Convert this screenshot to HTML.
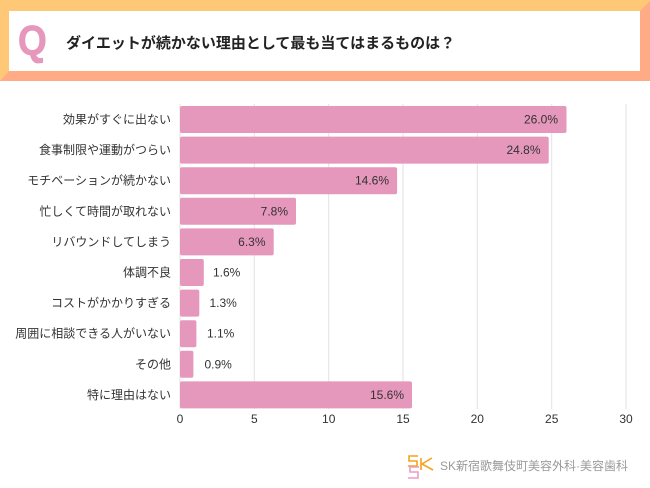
<!DOCTYPE html>
<html><head><meta charset="utf-8">
<style>
html,body{margin:0;padding:0;background:#fff;}
body{width:650px;height:488px;overflow:hidden;position:relative;font-family:"Liberation Sans","Noto Sans CJK JP",sans-serif;}
.frame{position:absolute;left:0;top:0;width:631px;height:60px;border-style:solid;border-width:11px 11px 10px 9px;border-color:#FFC877 #FFAB85 #FFAB85 #FFC877;background:#fff;}
.q{position:absolute;left:18px;top:17px;font-family:"Liberation Sans",sans-serif;font-weight:bold;font-size:42px;color:#E597BC;transform:scaleX(0.88);transform-origin:left top;line-height:48px;-webkit-text-stroke:0.8px #E597BC;}
.title{position:absolute;left:66px;top:34px;font-size:15px;font-weight:bold;color:#222;line-height:20px;white-space:nowrap;font-family:"Liberation Sans","Noto Sans CJK JP",sans-serif;}
svg{position:absolute;left:0;top:0;}
</style></head><body>
<div class="frame"></div>
<div class="q">Q</div>
<div class="title">ダイエットが続かない理由として最も当てはまるものは？</div>
<svg width="650" height="488" viewBox="0 0 650 488" xmlns="http://www.w3.org/2000/svg">
<g stroke="#e2e2e2" stroke-width="1">
<line x1="180" y1="104" x2="180" y2="409"/>
<line x1="254.3" y1="104" x2="254.3" y2="409"/>
<line x1="328.7" y1="104" x2="328.7" y2="409"/>
<line x1="403" y1="104" x2="403" y2="409"/>
<line x1="477.3" y1="104" x2="477.3" y2="409"/>
<line x1="551.7" y1="104" x2="551.7" y2="409"/>
<line x1="626" y1="104" x2="626" y2="409"/>
</g>
<g fill="#E597BC">
<rect x="180" y="106" width="386.5" height="27" rx="2"/>
<rect x="180" y="136.6" width="368.7" height="27" rx="2"/>
<rect x="180" y="167.2" width="217.1" height="27" rx="2"/>
<rect x="180" y="197.8" width="116" height="27" rx="2"/>
<rect x="180" y="228.4" width="93.7" height="27" rx="2"/>
<rect x="180" y="259" width="23.8" height="27" rx="2"/>
<rect x="180" y="289.6" width="19.3" height="27" rx="2"/>
<rect x="180" y="320.2" width="16.4" height="27" rx="2"/>
<rect x="180" y="350.8" width="13.4" height="27" rx="2"/>
<rect x="180" y="381.4" width="232" height="27" rx="2"/>
</g>
<g font-family="Liberation Sans, Noto Sans CJK JP, sans-serif" font-size="12" fill="#333" text-anchor="end" dominant-baseline="central">
<text x="171" y="119.5">効果がすぐに出ない</text>
<text x="171" y="150.1">食事制限や運動がつらい</text>
<text x="171" y="180.7">モチベーションが続かない</text>
<text x="171" y="211.3">忙しくて時間が取れない</text>
<text x="171" y="241.9">リバウンドしてしまう</text>
<text x="171" y="272.5">体調不良</text>
<text x="171" y="303.1">コストがかかりすぎる</text>
<text x="171" y="333.7">周囲に相談できる人がいない</text>
<text x="171" y="364.3">その他</text>
<text x="171" y="394.9">特に理由はない</text>
</g>
<g font-family="Liberation Sans, sans-serif" font-size="12" fill="#333" dominant-baseline="central">
<text x="558" y="119.5" text-anchor="end">26.0%</text>
<text x="540.5" y="150.1" text-anchor="end">24.8%</text>
<text x="389" y="180.7" text-anchor="end">14.6%</text>
<text x="288" y="211.3" text-anchor="end">7.8%</text>
<text x="265.5" y="241.9" text-anchor="end">6.3%</text>
<text x="213" y="272.5">1.6%</text>
<text x="209.5" y="303.1">1.3%</text>
<text x="207" y="333.7">1.1%</text>
<text x="204.5" y="364.3">0.9%</text>
<text x="404" y="394.9" text-anchor="end">15.6%</text>
</g>
<g font-family="Liberation Sans, sans-serif" font-size="12" fill="#333" text-anchor="middle" dominant-baseline="central">
<text x="180" y="419">0</text>
<text x="254.3" y="419">5</text>
<text x="328.7" y="419">10</text>
<text x="403" y="419">15</text>
<text x="477.3" y="419">20</text>
<text x="551.7" y="419">25</text>
<text x="626" y="419">30</text>
</g>
<g fill="none" stroke-width="1.6">
<path d="M418 456 L409 456 L409 461 L417 461 L417 466 L408 466" stroke="#F7A21B"/>
<path d="M421 458 L421 470 M432 458 L422 464 L433 470" stroke="#F7A21B"/>
<path d="M419 467 L410 467 L410 472 L418 472 L418 478 L408 478" stroke="#EE9BC3"/>
</g>
<text x="440" y="466" font-family="Liberation Sans, Noto Sans CJK JP, sans-serif" font-size="12" fill="#9a9a9a" dominant-baseline="central">SK新宿歌舞伎町美容外科·美容歯科</text>
</svg>
</body></html>
